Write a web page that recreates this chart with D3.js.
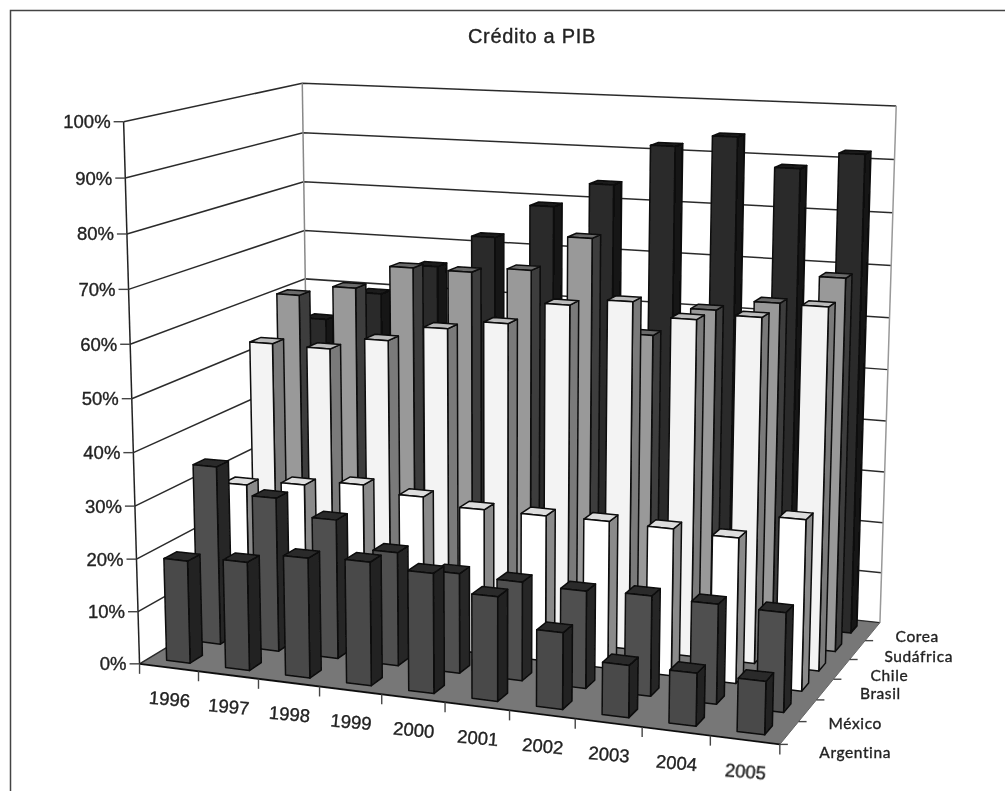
<!DOCTYPE html>
<html>
<head>
<meta charset="utf-8">
<title>Crédito a PIB</title>
<script src="https://cdn.jsdelivr.net/npm/d3@7"></script>
<style>
html, body { margin: 0; padding: 0; background: #fff; }
svg { display: block; }
</style>
</head>
<body>
<div id="chart"></div>
<script>
// Data (% of GDP)
var years = ["1996", "1997", "1998", "1999", "2000", "2001", "2002", "2003", "2004", "2005"];
var countries = ["Argentina", "México", "Brasil", "Chile", "Sudáfrica", "Corea"];
var yTicks = [0, 10, 20, 30, 40, 50, 60, 70, 80, 90, 100];
var argentina = [19.5, 20.5, 22.5, 23, 22.2, 19.2, 14, 9.5, 9.5, 9.5];
var mexico = [34.4, 29.5, 26.5, 21.5, 18.8, 18.5, 18.1, 18.5, 18.3, 18.1];
var brasil = [28, 29.1, 30.2, 29, 27.7, 27.7, 27.8, 27.6, 27.1, 31.6];
var chile = [53.2, 53, 55.5, 58.6, 60.4, 64.7, 66.1, 63.6, 64.8, 67.5];
var sudafrica = [60.6, 62.8, 67.5, 67.4, 68.5, 75.3, 57.6, 63.2, 65.3, 70.7];
var corea = [53.6, 59.6, 65.8, 72.3, 79, 83.8, 91.7, 94, 88.6, 91.8];
var seriesValues = [argentina, mexico, brasil, chile, sudafrica, corea];

// Face colours per series: front, side, top
var faceColors = [
	{ front: "#4a4a4a", side: "#222222", top: "#2b2b2b" },
	{ front: "#505050", side: "#262626", top: "#2b2b2b" },
	{ front: "#ffffff", side: "#8a8a8a", top: "#dddddd" },
	{ front: "#f3f3f3", side: "#7a7a7a", top: "#bbbbbb" },
	{ front: "#999999", side: "#3c3c3c", top: "#6a6a6a" },
	{ front: "#2a2a2a", side: "#121212", top: "#1a1a1a" }
];

var width = 1005, height = 791;

// Where the chart box sits on the page: [x, y, z] in box units -> [u, v] in pixels
var anchors = [
	[0, 0, 0, 140, 663],
	[0, 1, 0, 123, 122],
	[1, 0, 0, 780, 745],
	[1, 0, 1, 880, 622],
	[1, 1, 1, 896, 106],
	[0, 0, 1, 309, 562],
	[0, 1, 1, 303, 83]
];

// Fit a camera matrix to the anchors (least squares, normal equations)
function fitCamera(pts) {
	var rows = [], rhs = [];
	pts.forEach(function(p) {
		var X = p[0], Y = p[1], Z = p[2], u = p[3], v = p[4];
		rows.push([X, Y, Z, 1, 0, 0, 0, 0, -u*X, -u*Y, -u*Z]); rhs.push(u);
		rows.push([0, 0, 0, 0, X, Y, Z, 1, -v*X, -v*Y, -v*Z]); rhs.push(v);
	});
	var n = 11;
	var A = d3.range(n).map(function(i) {
		var row = d3.range(n).map(function(j) {
			return d3.sum(rows, function(r) { return r[i]*r[j]; });
		});
		row.push(d3.sum(rows, function(r, k) { return r[i]*rhs[k]; }));
		return row;
	});
	for (var c = 0; c < n; c++) {
		var best = c;
		for (var r = c+1; r < n; r++) if (Math.abs(A[r][c]) > Math.abs(A[best][c])) best = r;
		var tmp = A[c]; A[c] = A[best]; A[best] = tmp;
		for (r = 0; r < n; r++) {
			if (r === c) continue;
			var f = A[r][c]/A[c][c];
			for (var k = c; k <= n; k++) A[r][k] -= f*A[c][k];
		}
	}
	return d3.range(n).map(function(i) { return A[i][n]/A[i][i]; });
}
var cam = fitCamera(anchors);

function project(x, y, z) {
	var w = cam[8]*x + cam[9]*y + cam[10]*z + 1;
	return [
		(cam[0]*x + cam[1]*y + cam[2]*z + cam[3])/w,
		(cam[4]*x + cam[5]*y + cam[6]*z + cam[7])/w
	];
}

// Scales into box units
var xScale = d3.scaleBand().domain(years).range([0, 1]).paddingInner(0.6).paddingOuter(0.3);
var zScale = d3.scaleBand().domain(countries).range([0, 1]).paddingInner(0.6).paddingOuter(0.3);
var yScale = d3.scaleLinear().domain([0, 100]).range([0, 1]);

function pts(list) {
	return list.map(function(p) { return project(p[0], p[1], p[2]).join(","); }).join(" ");
}

var svg = d3.select("#chart").append("svg")
	.attr("width", width)
	.attr("height", height)
	.attr("viewBox", "0 0 " + width + " " + height);

svg.append("defs").append("filter").attr("id", "soft")
	.append("feGaussianBlur").attr("stdDeviation", 0.55);

// Picture frame, top and left only
svg.append("path")
	.attr("d", "M10.5," + height + "V10.5H" + width)
	.attr("fill", "none")
	.attr("stroke", "#444")
	.attr("stroke-width", 1.5);

var plot = svg.append("g").attr("filter", "url(#soft)");
var labels = svg.append("g")
	.attr("filter", "url(#soft)")
	.attr("fill", "#222")
	.attr("stroke", "#222")
	.attr("stroke-width", 0.35);

labels.append("text")
	.attr("x", 532)
	.attr("y", 43)
	.attr("text-anchor", "middle")
	.attr("font-family", "Liberation Sans, Arial, sans-serif")
	.attr("font-size", 20)
	.attr("letter-spacing", 0.7)
	.text("Crédito a PIB");

// Floor
plot.append("polygon")
	.attr("points", pts([[0, 0, 0], [1, 0, 0], [1, 0, 1], [0, 0, 1]]))
	.attr("fill", "#777");

// Grid lines on the two walls
plot.selectAll("polyline.grid")
	.data(yTicks)
	.enter()
	.append("polyline")
	.attr("class", "grid")
	.attr("points", function(d) {
		var y = yScale(d);
		return pts([[0, y, 0], [0, y, 1], [1, y, 1]]);
	})
	.attr("fill", "none")
	.attr("stroke", "#2c2c2c")
	.attr("stroke-width", 1.5);

// Wall verticals
[[0, 0, "#222"], [0, 1, "#888"], [1, 1, "#999"]].forEach(function(e) {
	var a = project(e[0], 0, e[1]), b = project(e[0], 1, e[1]);
	plot.append("line")
		.attr("x1", a[0]).attr("y1", a[1])
		.attr("x2", b[0]).attr("y2", b[1])
		.attr("stroke", e[2])
		.attr("stroke-width", 1.5);
});

// Front and side floor edges
plot.append("polyline")
	.attr("points", pts([[0, 0, 0], [1, 0, 0]]))
	.attr("stroke", "#111")
	.attr("stroke-width", 1.8);
plot.append("polyline")
	.attr("points", pts([[1, 0, 0], [1, 0, 1]]))
	.attr("stroke", "#666")
	.attr("stroke-width", 1);

// Tick marks
plot.selectAll("line.ytick")
	.data(yTicks)
	.enter()
	.append("line")
	.attr("class", "ytick")
	.attr("x1", function(d) { return project(0, yScale(d), 0)[0] - 10; })
	.attr("x2", function(d) { return project(0, yScale(d), 0)[0]; })
	.attr("y1", function(d) { return project(0, yScale(d), 0)[1]; })
	.attr("y2", function(d) { return project(0, yScale(d), 0)[1]; })
	.attr("stroke", "#444")
	.attr("stroke-width", 1.4);

plot.selectAll("line.xtick")
	.data(d3.range(years.length + 1))
	.enter()
	.append("line")
	.attr("class", "xtick")
	.attr("x1", function(d) { return project(d/years.length, 0, 0)[0]; })
	.attr("x2", function(d) { return project(d/years.length, 0, 0)[0]; })
	.attr("y1", function(d) { return project(d/years.length, 0, 0)[1]; })
	.attr("y2", function(d) { return project(d/years.length, 0, 0)[1] + 10; })
	.attr("stroke", "#444")
	.attr("stroke-width", 1.4);

plot.selectAll("line.ztick")
	.data(d3.range(1, countries.length + 1))
	.enter()
	.append("line")
	.attr("class", "ztick")
	.attr("x1", function(d) { return project(1, 0, (d-1)/countries.length)[0]; })
	.attr("x2", function(d) { return project(1, 0, (d-1)/countries.length)[0] + 8; })
	.attr("y1", function(d) { return project(1, 0, (d-1)/countries.length)[1]; })
	.attr("y2", function(d) { return project(1, 0, (d-1)/countries.length)[1]; })
	.attr("stroke", "#444")
	.attr("stroke-width", 1.4);

// Bars, back row first and right to left inside a row
var bars = [];
countries.forEach(function(c, s) {
	years.forEach(function(yr, i) {
		bars.push({ s: s, i: i, year: yr, country: c, value: seriesValues[s][i] });
	});
});
bars.sort(function(a, b) { return b.s - a.s || b.i - a.i; });

var barG = plot.selectAll("g.bar")
	.data(bars)
	.enter()
	.append("g")
	.attr("class", "bar")
	.attr("stroke", "#0c0c0c")
	.attr("stroke-width", 1.5)
	.attr("stroke-linejoin", "round");

function box(d) {
	return {
		x0: xScale(d.year), x1: xScale(d.year) + xScale.bandwidth(),
		z0: zScale(d.country), z1: zScale(d.country) + zScale.bandwidth(),
		h: yScale(d.value)
	};
}

barG.append("polygon")
	.attr("points", function(d) {
		var b = box(d);
		return pts([[b.x1, 0, b.z0], [b.x1, 0, b.z1], [b.x1, b.h, b.z1], [b.x1, b.h, b.z0]]);
	})
	.attr("fill", function(d) { return faceColors[d.s].side; });

barG.append("polygon")
	.attr("points", function(d) {
		var b = box(d);
		return pts([[b.x0, b.h, b.z0], [b.x1, b.h, b.z0], [b.x1, b.h, b.z1], [b.x0, b.h, b.z1]]);
	})
	.attr("fill", function(d) { return faceColors[d.s].top; });

barG.append("polygon")
	.attr("points", function(d) {
		var b = box(d);
		return pts([[b.x0, 0, b.z0], [b.x1, 0, b.z0], [b.x1, b.h, b.z0], [b.x0, b.h, b.z0]]);
	})
	.attr("fill", function(d) { return faceColors[d.s].front; });

// Axis labels
labels.selectAll("text.ylabel")
	.data(yTicks)
	.enter()
	.append("text")
	.attr("class", "ylabel")
	.attr("x", function(d) { return project(0, yScale(d), 0)[0] - 13; })
	.attr("y", function(d) { return project(0, yScale(d), 0)[1] + 6.5; })
	.attr("text-anchor", "end")
	.attr("font-family", "Liberation Sans, Arial, sans-serif")
	.attr("font-size", 18.5)
	.text(function(d) { return d + "%"; });

labels.selectAll("text.xlabel")
	.data(years)
	.enter()
	.append("text")
	.attr("class", "xlabel")
	.attr("transform", function(d) {
		var p = project(xScale(d) + xScale.bandwidth()/2, 0, 0);
		return "translate(" + p[0] + "," + (p[1] + 38) + ") rotate(5)";
	})
	.attr("text-anchor", "middle")
	.attr("font-family", "Liberation Sans, Arial, sans-serif")
	.attr("font-size", 18.5)
	.text(function(d) { return d; });

// The country labels were placed by hand in the source, each with its own nudge
var countryNudge = [[30, 25], [21, 18], [35, 10], [29, 12], [27, 12], [23, 10]];
labels.selectAll("text.zlabel")
	.data(countries)
	.enter()
	.append("text")
	.attr("class", "zlabel")
	.attr("x", function(d, i) { return project(1, 0, zScale(d) + zScale.bandwidth()/2)[0] + countryNudge[i][0]; })
	.attr("y", function(d, i) { return project(1, 0, zScale(d) + zScale.bandwidth()/2)[1] + countryNudge[i][1]; })
	.attr("font-family", "Lato, sans-serif")
	.attr("font-size", 15.5)
	.attr("letter-spacing", 0.6)
	.text(function(d) { return d; });
</script>
</body>
</html>
